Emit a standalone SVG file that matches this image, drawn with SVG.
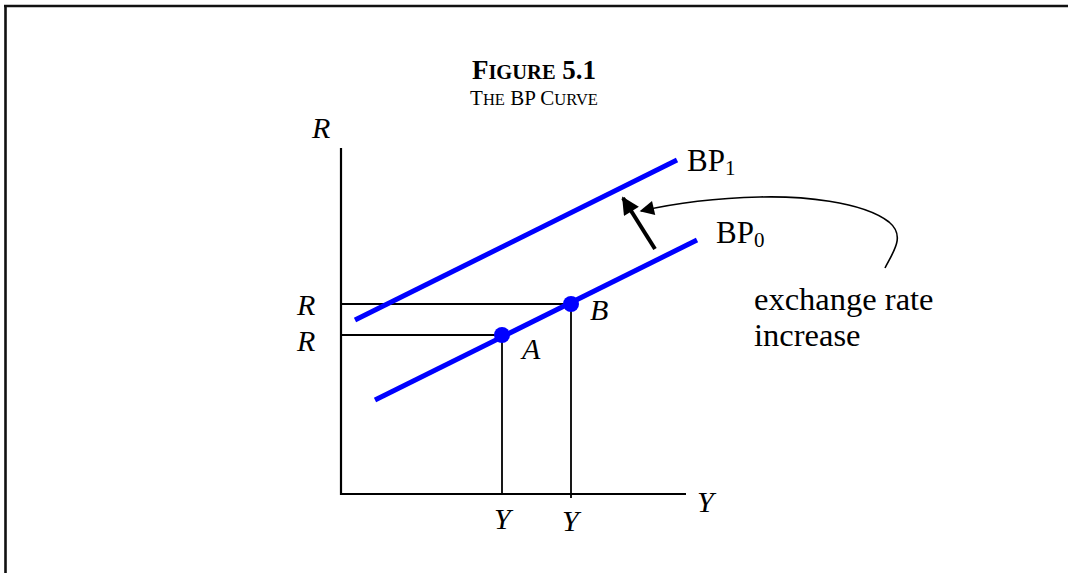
<svg xmlns="http://www.w3.org/2000/svg" width="1068" height="573" viewBox="0 0 1068 573">
<defs>
<style>
.t{font-family:"Liberation Serif","Times New Roman",serif;fill:#000}
.i{font-style:italic}
.ax{stroke:#000;stroke-width:2.2;fill:none}
.gd{stroke:#000;stroke-width:1.8;fill:none}
.bp{stroke:#0000ff;stroke-width:5;fill:none}
.dot{fill:#0000ff}
</style>
<marker id="ah" viewBox="0 0 10 10" refX="9" refY="5" markerWidth="5" markerHeight="4.4" orient="auto" markerUnits="strokeWidth">
<path d="M0,0 L10,5 L0,10 z" fill="#000"/>
</marker>
<marker id="ah2" viewBox="0 0 10 10" refX="9" refY="5" markerWidth="12" markerHeight="9" orient="auto" markerUnits="strokeWidth">
<path d="M0,0 L10,5 L0,10 z" fill="#000"/>
</marker>
</defs>
<rect width="1068" height="573" fill="#fff"/>
<g id="frame"><path d="M4,6 H1068 M5.5,6 V573" stroke="#111" stroke-width="2.6" fill="none"/></g>
<g id="title">
<text class="t" x="534" y="79" text-anchor="middle" font-weight="bold" font-size="27">F<tspan font-size="20.5">IGURE</tspan> 5.1</text>
<text class="t" x="534" y="105" text-anchor="middle" font-size="21">T<tspan font-size="16.5">HE</tspan> BP C<tspan font-size="16.5">URVE</tspan></text>
</g>
<g id="axes">
<path class="ax" d="M341,148 V494 H686"/>
<text class="t i" x="312" y="138" font-size="30">R</text>
<text class="t i" x="697" y="512" font-size="30">Y</text>
</g>
<g id="guides">
<path class="gd" d="M341,304 H571 V498"/>
<path class="gd" d="M341,335 H502 V494"/>
<text class="t i" x="297" y="315" font-size="30">R</text>
<text class="t i" x="297" y="351" font-size="30">R</text>
<text class="t i" x="494" y="529" font-size="30">Y</text>
<text class="t i" x="562" y="531" font-size="30">Y</text>
</g>
<g id="bp0">
<line class="bp" x1="375" y1="400" x2="697" y2="240"/>
<text class="t" x="716" y="243" font-size="31">BP<tspan font-size="21" dy="4">0</tspan></text>
</g>
<g id="bp1">
<line class="bp" x1="355" y1="320" x2="677" y2="160"/>
<text class="t" x="687" y="171" font-size="31">BP<tspan font-size="21" dy="4">1</tspan></text>
</g>
<g id="pointA">
<circle class="dot" cx="502" cy="335" r="8"/>
<text class="t i" x="522" y="359" font-size="30">A</text>
</g>
<g id="pointB">
<circle class="dot" cx="571" cy="304" r="8"/>
<text class="t i" x="590" y="320" font-size="30">B</text>
</g>
<g id="label">
<text class="t" x="754" y="310" font-size="32.5">exchange rate</text>
<text class="t" x="754" y="346" font-size="32.5">increase</text>
</g>
<g id="connectors">
<line x1="655" y1="249" x2="623" y2="198" stroke="#000" stroke-width="4" marker-end="url(#ah)"/>
<path d="M885,268 C893,252 906,236 889,222 C862,201 800,196 760,197 C720,198 680,202 641,211" stroke="#000" stroke-width="1.6" fill="none" marker-end="url(#ah2)"/>
</g>
</svg>
